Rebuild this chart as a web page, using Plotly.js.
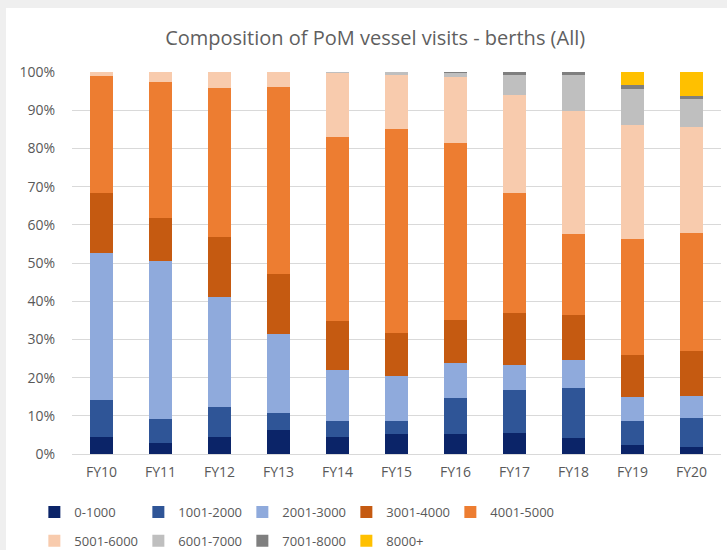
<!DOCTYPE html>
<html>
<head>
<meta charset="utf-8">
<script src="https://cdn.plot.ly/plotly-3.0.1.min.js"></script>
<style>
  html, body { margin: 0; padding: 0; background: #efefef; width: 727px; height: 550px; overflow: hidden; }
  #chart { position: absolute; left: 6px; top: 8px; width: 721px; height: 542px; background: #ffffff; }
</style>
</head>
<body>
<div id="chart"></div>
<script>
// Categories (fiscal years)
const years = ["FY10", "FY11", "FY12", "FY13", "FY14", "FY15", "FY16", "FY17", "FY18", "FY19", "FY20"];

// Series: share of vessel visits (%) by size band
const s0_1000    = [4.4, 2.8, 4.4, 6.3, 4.5, 5.2, 5.2, 5.4, 4.1, 2.4, 1.9];
const s1001_2000 = [9.8, 6.3, 7.8, 4.4, 4.2, 3.5, 9.4, 11.4, 13.1, 6.3, 7.6];
const s2001_3000 = [38.5, 41.4, 28.8, 20.7, 13.3, 11.8, 9.2, 6.6, 7.5, 6.1, 5.8];
const s3001_4000 = [15.7, 11.4, 15.8, 15.8, 12.7, 11.3, 11.4, 13.5, 11.6, 11.2, 11.7];
const s4001_5000 = [30.5, 35.4, 38.9, 48.9, 48.3, 53.4, 46.1, 31.5, 21.2, 30.4, 30.9];
const s5001_6000 = [1.1, 2.7, 4.3, 3.9, 16.7, 14.0, 17.3, 25.6, 32.2, 29.7, 27.7];
const s6001_7000 = [0, 0, 0, 0, 0.3, 0.8, 1.1, 5.2, 9.6, 9.4, 7.3];
const s7001_8000 = [0, 0, 0, 0, 0, 0, 0.3, 0.8, 0.7, 1.1, 0.8];
const s8000plus  = [0, 0, 0, 0, 0, 0, 0, 0, 0, 3.4, 6.3];

const seriesNames = ["0-1000", "1001-2000", "2001-3000", "3001-4000", "4001-5000", "5001-6000", "6001-7000", "7001-8000", "8000+"];
const seriesValues = [s0_1000, s1001_2000, s2001_3000, s3001_4000, s4001_5000, s5001_6000, s6001_7000, s7001_8000, s8000plus];
const seriesColors = ["#0b2468", "#2f5597", "#8faadc", "#c55a11", "#ed7d31", "#f8cbad", "#bfbfbf", "#7f7f7f", "#ffc000"];

const yTicks = [0, 10, 20, 30, 40, 50, 60, 70, 80, 90, 100];
const yTickText = yTicks.map(v => v + "%");

const traces = seriesNames.map((name, i) => ({
  type: "bar",
  name: name,
  x: years,
  y: seriesValues[i],
  legend: i < 5 ? "legend" : "legend2",
  marker: { color: seriesColors[i], line: { width: 0 } },
  hoverinfo: "name+y"
}));

const fontFam = "'Open Sans', Lato, 'Liberation Sans', sans-serif";

const legendCommon = {
  orientation: "h",
  x: -0.058,
  xanchor: "left",
  yanchor: "middle",
  traceorder: "normal",
  entrywidth: 59,
  entrywidthmode: "pixels",
  itemwidth: 30,
  font: { family: fontFam, size: 13, color: "#595959" },
  bgcolor: "rgba(0,0,0,0)"
};

const layout = {
  width: 721,
  height: 542,
  barmode: "stack",
  bargap: 0.61,
  paper_bgcolor: "#ffffff",
  plot_bgcolor: "#ffffff",
  margin: { l: 66, r: 6, t: 64, b: 96, autoexpand: false },
  font: { family: fontFam, size: 12, color: "#595959" },
  title: {
    text: "Composition of PoM vessel visits - berths (All)",
    font: { family: fontFam, size: 20, color: "#5f5f5f" },
    xref: "container",
    x: 0.512,
    xanchor: "center",
    yref: "container",
    y: 0.945,
    yanchor: "middle"
  },
  xaxis: {
    type: "category",
    showgrid: false,
    showline: false,
    ticks: "",
    ticklabelstandoff: 8,
    tickfont: { family: fontFam, size: 14, color: "#595959" },
    fixedrange: true
  },
  yaxis: {
    range: [0, 100],
    tickvals: yTicks,
    ticktext: yTickText,
    showgrid: true,
    gridcolor: "#d9d9d9",
    gridwidth: 1,
    zeroline: true,
    zerolinecolor: "#d9d9d9",
    showline: false,
    ticks: "",
    ticklabelstandoff: 16,
    tickfont: { family: fontFam, size: 14, color: "#595959" },
    fixedrange: true
  },
  showlegend: true,
  legend: Object.assign({}, legendCommon, { y: -0.152 }),
  legend2: Object.assign({}, legendCommon, { y: -0.227 })
};

Plotly.newPlot("chart", traces, layout, { displayModeBar: false, staticPlot: true });
</script>
</body>
</html>
